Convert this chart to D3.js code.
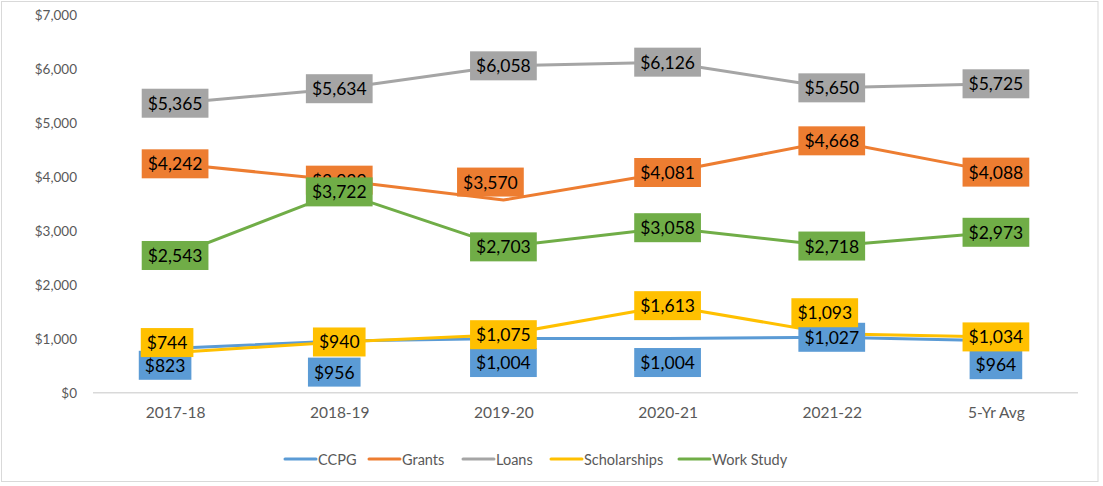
<!DOCTYPE html>
<html><head><meta charset="utf-8">
<script src="https://cdn.jsdelivr.net/npm/d3@7"></script>
<style>
html,body{margin:0;padding:0;background:#fff;}
svg{display:block;font-family:Lato,"Open Sans",sans-serif;}
</style></head>
<body><svg id="chart" width="1103" height="486"></svg>
<script>
const categories = ["2017-18","2018-19","2019-20","2020-21","2021-22","5-Yr Avg"];
const seriesNames = ["CCPG","Grants","Loans","Scholarships","Work Study"];
const ccpg = [823,956,1004,1004,1027,964];
const grants = [4242,3939,3570,4081,4668,4088];
const loans = [5365,5634,6058,6126,5650,5725];
const scholarships = [744,940,1075,1613,1093,1034];
const workStudy = [2543,3722,2703,3058,2718,2973];
const yTicks = [0,1000,2000,3000,4000,5000,6000,7000];

const seriesValues = [ccpg, grants, loans, scholarships, workStudy];
const colors = ["#5B9BD5","#ED7D31","#A5A5A5","#FFC000","#70AD47"];
// label placement nudges (dx, dy) relative to the point, as in the reference
const labelNudges = [
  [[-10,17],[-5,31],[0,24],[0,24],[0,0],[0,24]],
  [[0,0],[0,0],[-13,-18],[0,0],[0,0],[0,0]],
  [[0,0],[0,0],[0,0],[0,0],[0,0],[0,0]],
  [[-8,-10],[0,0],[0,0],[0,0],[-7,-21],[0,0]],
  [[0,0],[0,0],[0,0],[0,0],[0,0],[0,0]]
];

const svg = d3.select("#chart");
svg.append("rect").attr("x",1.5).attr("y",1.5).attr("width",1096.5).attr("height",480)
  .attr("fill","#fff").attr("stroke","#D9D9D9").attr("stroke-width",1);

const plot = {left:93, right:1078, top:15, bottom:392.7};
const x = d3.scalePoint().domain(categories).range([plot.left, plot.right]).padding(0.5);
const y = d3.scaleLinear().domain([0,7000]).range([plot.bottom, plot.top]);
const fmt = d3.format("$,.0f");

// y axis labels
const yAxis = d3.axisLeft(y).tickValues(yTicks).tickFormat(fmt).tickSize(0).tickPadding(0);
const ya = svg.append("g").attr("transform",`translate(77,0)`).call(yAxis);
ya.select(".domain").remove();
ya.selectAll("text").attr("font-family","Lato").attr("font-size",13.5).attr("fill","#595959");

// x axis
const xAxis = d3.axisBottom(x).tickSize(0).tickPadding(14);
const xa = svg.append("g").attr("transform",`translate(0,${plot.bottom})`).call(xAxis);
xa.select(".domain").remove();
xa.append("line").attr("x1",plot.left).attr("x2",plot.right).attr("y1",0).attr("y2",0)
  .attr("stroke","#D9D9D9").attr("stroke-width",1.5);
xa.selectAll("text").attr("font-family","Lato").attr("font-size",15.5).attr("fill","#595959");

// lines
const line = d3.line().x((d,i)=>x(categories[i])).y(d=>y(d));
seriesValues.forEach((vals,s)=>{
  svg.append("path").datum(vals).attr("d",line).attr("fill","none")
    .attr("stroke",colors[s]).attr("stroke-width",3).attr("stroke-linejoin","round").attr("stroke-linecap","round");
});

// data labels
seriesValues.forEach((vals,s)=>{
  const g = svg.append("g");
  vals.forEach((v,i)=>{
    const cx = x(categories[i]) + labelNudges[s][i][0];
    const cy = y(v) + labelNudges[s][i][1];
    const lg = g.append("g");
    const rect = lg.append("rect").attr("fill",colors[s]);
    const t = lg.append("text").attr("x",cx).attr("y",cy).attr("text-anchor","middle")
      .attr("dominant-baseline","central").attr("font-family","Lato").attr("font-size",17.5)
      .attr("fill","#000").text(fmt(v));
    const w = t.node().getComputedTextLength();
    rect.attr("x",cx-w/2-6).attr("y",cy-14.5).attr("width",w+12).attr("height",29);
  });
});

// legend
const legendX = [285,369,463,551,679];
const lg = svg.append("g");
seriesNames.forEach((n,s)=>{
  lg.append("line").attr("x1",legendX[s]).attr("x2",legendX[s]+31).attr("y1",459).attr("y2",459)
    .attr("stroke",colors[s]).attr("stroke-width",3).attr("stroke-linecap","round");
  lg.append("text").attr("x",legendX[s]+33).attr("y",459).attr("dominant-baseline","central")
    .attr("font-family","Lato").attr("font-size",14.5).attr("fill","#595959").text(n);
});
</script></body></html>
